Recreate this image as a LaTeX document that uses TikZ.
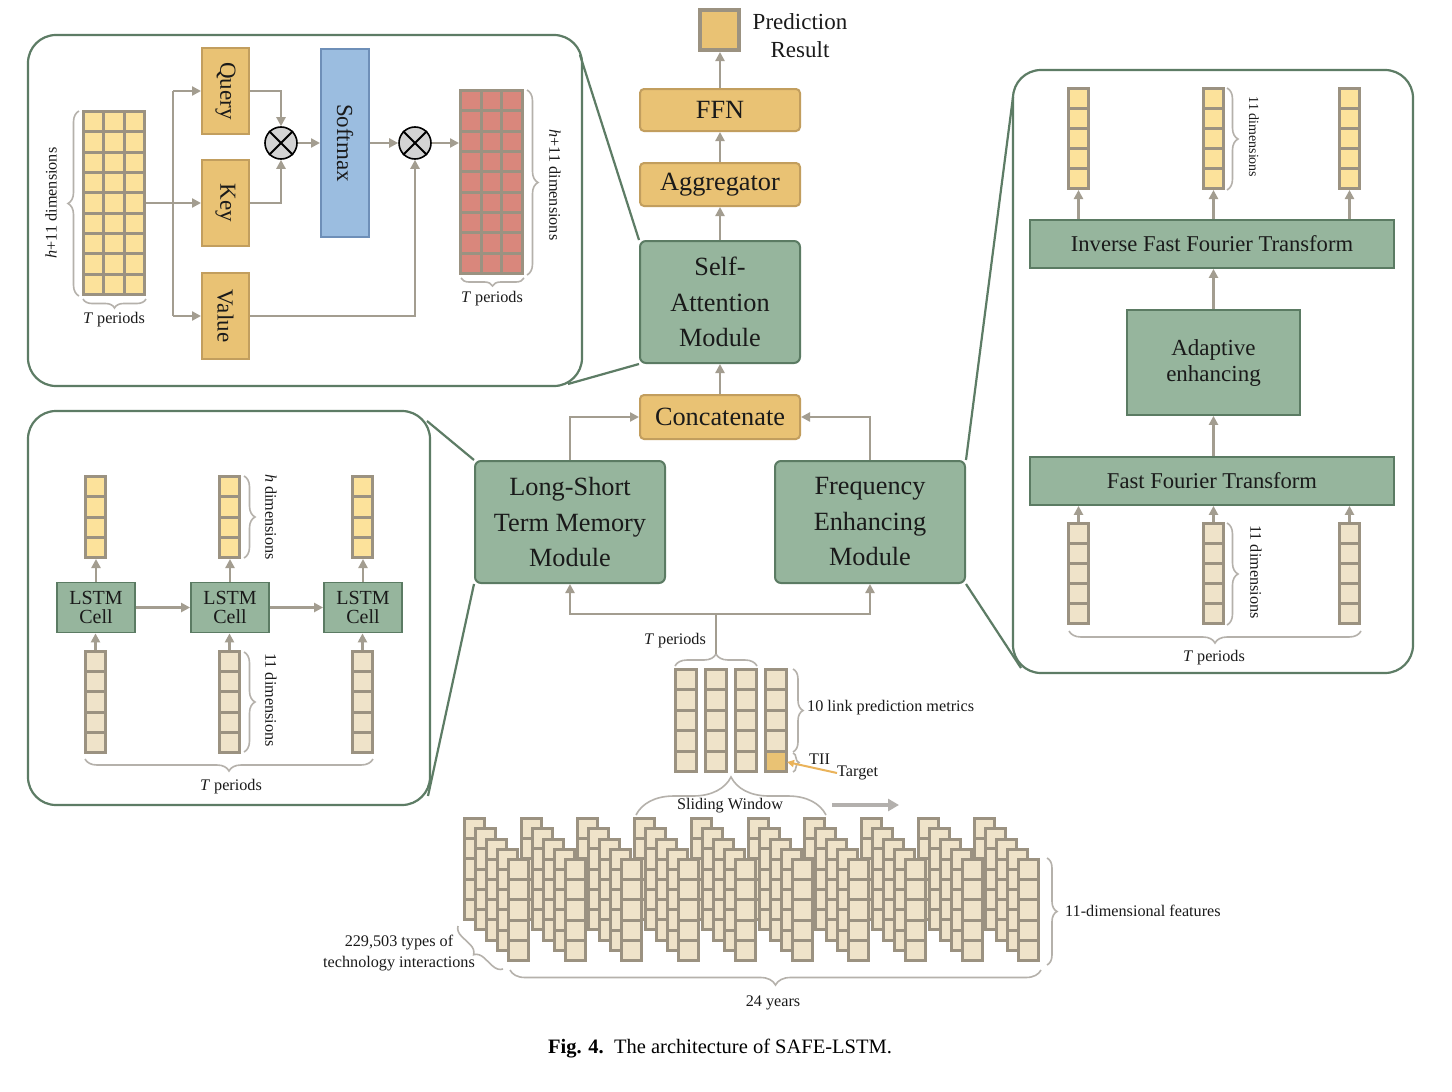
\documentclass[tikz,border=0pt]{standalone}
\usepackage{graphicx}
\usepackage{fontspec}
\setmainfont{Liberation Serif}
\usetikzlibrary{arrows.meta,decorations.pathreplacing,calc}

\definecolor{taupe}{HTML}{9B9281}
\definecolor{beige}{HTML}{EFE3C9}
\definecolor{paleyellow}{HTML}{FCE29B}
\definecolor{salmon}{HTML}{D9877C}
\definecolor{gold}{HTML}{E9C274}
\definecolor{goldedge}{HTML}{C29E5E}
\definecolor{sage}{HTML}{96B59D}
\definecolor{sageedge}{HTML}{5B7B63}
\definecolor{skyfill}{HTML}{9BBDE0}
\definecolor{skyedge}{HTML}{6E8FB8}
\definecolor{wire}{HTML}{A39D90}
\definecolor{bracegray}{HTML}{B5B1AB}
\definecolor{panelgreen}{HTML}{5D7C65}
\definecolor{targetorange}{HTML}{EAB35A}
\definecolor{slidegray}{HTML}{B3B0AD}
\definecolor{mulgray}{HTML}{D3D3D3}
\definecolor{ink}{HTML}{1A1A1A}

\tikzset{
  every node/.style={text=ink},
  frame/.style={fill=taupe, draw=none, inner sep=0pt, outer sep=0pt},
  module/.style={draw=sageedge, fill=sage, line width=2pt, rounded corners=6pt,
    inner sep=0pt, align=center, font=\fontsize{26.3}{35.5}\selectfont},
  flatmodule/.style={draw=sageedge, fill=sage, line width=1.8pt, inner sep=0pt, align=center},
  goldbox/.style={draw=goldedge, fill=gold, line width=2pt, rounded corners=4pt,
    inner sep=0pt, font=\fontsize{26.3}{30}\selectfont},
  qkv/.style={draw=goldedge, fill=gold, line width=2pt, inner sep=0pt,
    minimum width=47pt, minimum height=86pt, font=\fontsize{23}{26}\selectfont},
  pred/.style={draw=taupe, fill=gold, line width=4pt, minimum width=39pt, minimum height=40pt, inner sep=0pt},
  panel/.style={draw=panelgreen, fill=white, line width=2.2pt, rounded corners=28pt, inner sep=0pt},
  zoomline/.style={draw=panelgreen, line width=2.2pt},
  wireline/.style={draw=wire, line width=2.5pt},
  arr/.style={draw=wire, line width=2.5pt, -{Triangle[length=9pt,width=9pt]}},
  mul/.style={circle, draw=black, fill=mulgray, line width=1.6pt, minimum size=32pt, inner sep=0pt},
  curly/.style={decorate, decoration={brace, amplitude=#1}, draw=bracegray, line width=1.6pt},
  curly/.default=10pt,
  lab/.style={font=\fontsize{16.2}{21}\selectfont, inner sep=0pt},
  smalllab/.style={font=\fontsize{14}{17}\selectfont, inner sep=0pt},
}

% column of stacked cells: name, left, top, width, height, cells, cell colour
\newcommand{\cellcol}[7]{%
  \node[frame, minimum width=#4pt, minimum height=#5pt] (#1) at ({#2+#4/2},{#3+#5/2}) {};
  \foreach \ci in {1,...,#6}{%
    \fill[#7] ({#2+3},{#3+3+(\ci-1)*(#5-3)/#6}) rectangle ({#2+#4-3},{#3+\ci*(#5-3)/#6});
  }%
}
% grid of cells: name, left, top, width, height, columns, rows, cell colour
\newcommand{\cellgrid}[8]{%
  \node[frame, minimum width=#4pt, minimum height=#5pt] (#1) at ({#2+#4/2},{#3+#5/2}) {};
  \foreach \cj in {1,...,#6}{\foreach \ci in {1,...,#7}{%
    \fill[#8] ({#2+3+(\cj-1)*(#4-3)/#6},{#3+3+(\ci-1)*(#5-3)/#7})
      rectangle ({#2+\cj*(#4-3)/#6},{#3+\ci*(#5-3)/#7});
  }}%
}

\begin{document}
\begin{tikzpicture}[x=1pt,y=-1pt]
\fill[white] (0,0) rectangle (1452,1092);
\useasboundingbox (0,0) rectangle (1452,1092);

% ---------- detail panels ----------
\node[panel, minimum width=554pt, minimum height=351pt] (attpanel) at (305,210.5) {};
\node[panel, minimum width=402pt, minimum height=394pt] (lstmpanel) at (229,608) {};
\node[panel, minimum width=400pt, minimum height=603pt] (fftpanel) at (1213,371.5) {};

% ---------- main pipeline ----------
\node[pred] (pred) at (719.5,30) {};
\node[align=center, font=\fontsize{23}{28}\selectfont, inner sep=0pt] (predlab) at (800,36) {Prediction\\Result};
\node[goldbox, minimum width=160pt, minimum height=42pt] (ffn) at (720,110) {FFN};
\node[goldbox, minimum width=160pt, minimum height=43pt] (agg) at (720,184.5) {Aggregator};
\node[module, minimum width=160pt, minimum height=122pt] (sa) at (720,302) {Self-\\Attention\\Module};
\node[goldbox, minimum width=160pt, minimum height=44pt] (concat) at (720,417) {Concatenate};
\node[module, minimum width=190pt, minimum height=122pt] (lstm) at (570,522) {Long-Short\\Term Memory\\Module};
\node[module, minimum width=190pt, minimum height=122pt] (fem) at (870,522) {Frequency\\Enhancing\\Module};

\draw[arr] (ffn.north) -- (ffn.north |- pred.south);
\draw[arr] (agg.north) -- (ffn.south);
\draw[arr] (sa.north) -- (agg.south);
\draw[arr] (concat.north) -- (sa.south);
\draw[arr] (lstm.north) |- (concat.west);
\draw[arr] (fem.north) |- (concat.east);

% lines tying the panels to their modules
\coordinate (az1) at (580,55);
\coordinate (az2) at (568,384);
\coordinate (lz1) at (427,421);
\coordinate (lz2) at (428,796);
\coordinate (fz1) at (1013,97);
\coordinate (fz2) at (1021,668);
\draw[zoomline] (az1) -- (sa.north west);
\draw[zoomline] (az2) -- (sa.south west);
\draw[zoomline] (lz1) -- (lstm.north west);
\draw[zoomline] (lz2) -- (lstm.south west);
\draw[zoomline] (fem.north east) -- (fz1);
\draw[zoomline] (fem.south east) -- (fz2);

% ---------- self-attention panel ----------
\cellgrid{ingrid}{82}{110}{64}{186}{3}{9}{paleyellow}
\cellgrid{outgrid}{459}{89}{65}{186}{3}{9}{salmon}
\node[qkv] (query) at (225.5,91) {\rotatebox{-90}{Query}};
\node[qkv] (key) at (225.5,203) {\rotatebox{-90}{Key}};
\node[qkv] (value) at (225.5,316) {\rotatebox{-90}{Value}};
\node[draw=skyedge, fill=skyfill, line width=2pt, minimum width=48pt, minimum height=188pt,
  inner sep=0pt, font=\fontsize{23}{26}\selectfont] (softmax) at (345,143) {\rotatebox{-90}{Softmax}};
\node[mul] (mul1) at (281,143) {};
\node[mul] (mul2) at (415,143) {};
\foreach \m in {mul1,mul2}{
  \draw[line width=1.8pt] (\m.north west) -- (\m.south east) (\m.north east) -- (\m.south west);
}
\coordinate (fork) at (173,203);
\draw[wireline] (ingrid.east) -- (fork);
\draw[wireline] (fork |- query.west) -- (fork |- value.west);
\draw[arr] (fork |- query.west) -- (query.west);
\draw[arr] (fork) -- (key.west);
\draw[arr] (fork |- value.west) -- (value.west);
\draw[arr] (query.east) -| (mul1.north);
\draw[arr] (key.east) -| (mul1.south);
\draw[arr] (mul1.east) -- (softmax.west);
\draw[arr] (softmax.east) -- (mul2.west);
\draw[arr] (value.east) -| (mul2.south);
\draw[arr] (mul2.east) -- (mul2.east -| outgrid.west);

\draw[curly=11pt] (79,296) -- (79,111);
\node[lab, rotate=90] (indim) at (51,203) {\textit{h}+11 dimensions};
\draw[curly=9pt] (146,299) -- (83,299);
\node[lab] (inper) at (114,320) {\textit{T} periods};
\draw[curly=11pt] (527,90) -- (527,275);
\node[lab, rotate=-90] (outdim) at (555,185) {\textit{h}+11 dimensions};
\draw[curly=8pt] (524,278) -- (461,278);
\node[lab] (outper) at (492,299) {\textit{T} periods};

% ---------- LSTM panel ----------
\foreach \i/\x in {1/84,2/218,3/351}{
  \cellcol{ho\i}{\x}{475}{23}{84}{4}{paleyellow}
  \cellcol{xi\i}{\x}{650}{23}{104}{5}{beige}
  \node[flatmodule, minimum width=78pt, minimum height=50pt, font=\fontsize{20}{19}\selectfont]
    (cell\i) at ({\x+12},607.5) {LSTM\\Cell};
  \draw[arr] (cell\i.north) -- (cell\i.north |- ho\i.south);
  \draw[arr] (xi\i.north) -- (xi\i.north |- cell\i.south);
}
\draw[arr] (cell1.east) -- (cell2.west);
\draw[arr] (cell2.east) -- (cell3.west);
\draw[curly=11pt] (244,476) -- (244,558);
\node[lab, rotate=-90] (hdim) at (271,517) {\textit{h} dimensions};
\draw[curly=11pt] (244,652) -- (244,752);
\node[lab, rotate=-90] (xdim) at (271,700) {11 dimensions};
\draw[curly=12pt] (373,759) -- (85,759);
\node[lab] (lper) at (231,787) {\textit{T} periods};

% ---------- frequency enhancing panel ----------
\node[flatmodule, minimum width=364pt, minimum height=48pt, font=\fontsize{22.6}{26}\selectfont] (ifft) at (1212,244) {Inverse Fast Fourier Transform};
\node[flatmodule, minimum width=173pt, minimum height=105pt, font=\fontsize{23}{26}\selectfont] (adapt) at (1213.5,362.5) {Adaptive\\enhancing};
\node[flatmodule, minimum width=364pt, minimum height=48pt, font=\fontsize{22.6}{26}\selectfont] (fft) at (1212,481) {Fast Fourier Transform};
\foreach \i/\x in {1/1067,2/1202,3/1338}{
  \cellcol{fo\i}{\x}{87}{23}{103}{5}{paleyellow}
  \cellcol{fi\i}{\x}{522}{23}{103}{5}{beige}
  \draw[arr] (fo\i.south |- ifft.north) -- (fo\i.south);
  \draw[arr] (fi\i.north) -- (fi\i.north |- fft.south);
}
\draw[arr] (adapt.north) -- (adapt.north |- ifft.south);
\draw[arr] (adapt.south |- fft.north) -- (adapt.south);
\draw[curly=11pt] (1227,88) -- (1227,190);
\node[smalllab, rotate=-90] (fodim) at (1254,137) {11 dimensions};
\draw[curly=11pt] (1227,523) -- (1227,625);
\node[lab, rotate=-90] (fidim) at (1256,572) {11 dimensions};
\draw[curly=12pt] (1361,631) -- (1069,631);
\node[lab] (fper) at (1214,658) {\textit{T} periods};

% ---------- sliding window ----------
\foreach \i/\x in {1/674,2/704,3/734,4/764}{
  \cellcol{win\i}{\x}{668}{24}{105}{5}{beige}
}
\fill[gold] (767,{668+3+4*102/5}) rectangle (785,770);
\coordinate (tgtcell) at (787,762);
\draw[curly=12pt] (675,666) -- (757,666);
\coordinate (tp) at (716,654);
\coordinate (split) at (716,614);
\draw[wireline] (tp) -- (split);
\draw[arr] (split) -| (lstm.south);
\draw[arr] (split) -| (fem.south);
\node[lab] (tper) at (675,641) {\textit{T} periods};

\draw[curly=10pt] (793,669) -- (793,752);
\node[lab, anchor=west] (metrics) at (807,708) {10 link prediction metrics};
\draw[curly=6pt] (793,753) -- (793,772);
\node[lab, anchor=west] (tii) at (809,759) {TII};
\node[lab, anchor=west] (target) at (837,773) {Target};
\draw[draw=targetorange, line width=2pt, -{Triangle[length=7pt,width=7pt]}] (target.west) -- (tgtcell);

\draw[curly=38pt] (636,815) -- (826,815);
\node[lab] (slide) at (730,806) {Sliding Window};
\coordinate (sa1) at (832,805);
\coordinate (sa2) at (899,805);
\draw[draw=slidegray, line width=4pt, -{Triangle[length=11pt,width=12pt]}] (sa1) -- (sa2);

% ---------- full data cube ----------
\foreach \k in {0,...,4}{
  \foreach \g in {0,...,9}{
    \pgfmathsetmacro\sx{463+56.7*\g+11*\k}
    \pgfmathsetmacro\sy{817+10.25*\k}
    \cellcol{stack-\g-\k}{\sx}{\sy}{23}{104}{5}{beige}
  }
}
\draw[curly=10pt] (1047,858) -- (1047,965);
\node[lab, anchor=west] (feat) at (1065,911) {11-dimensional features};
\draw[curly=15pt] (1041,970) -- (510,970);
\node[lab] (years) at (773,1003) {24 years};
\draw[curly=10pt] (503,969) -- (458,926);
\node[lab, align=center] (types) at (399,953.5) {229,503 types of\\technology interactions};

% ---------- caption ----------
\node[font=\fontsize{20.5}{24}\selectfont, text=black, inner sep=0pt] (caption) at (720,1049)
  {\textbf{Fig. 4.}\enspace The architecture of SAFE-LSTM.};
\end{tikzpicture}
\end{document}
